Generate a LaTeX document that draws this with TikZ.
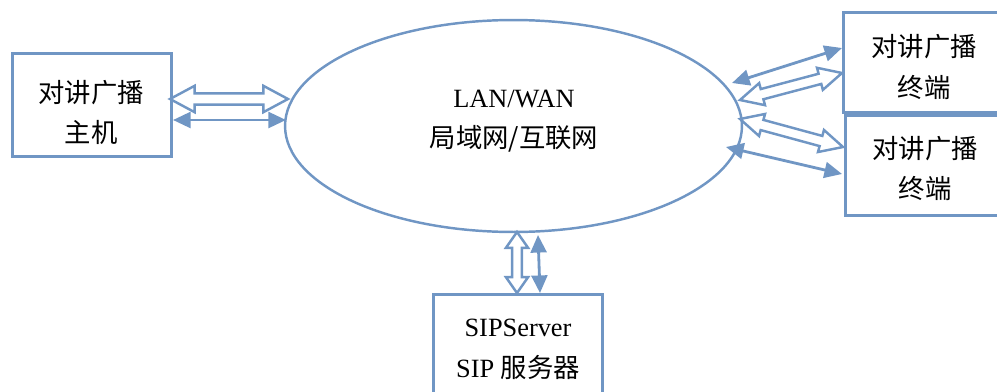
\documentclass[tikz,border=0pt]{standalone}
\usepackage{fontspec}
\setmainfont{Liberation Serif}
\newfontfamily\cjk{Noto Sans CJK SC}
\usetikzlibrary{shapes.geometric,arrows.meta,calc}

\definecolor{linkblue}{RGB}{112,150,196}

\begin{document}
\begin{tikzpicture}[x=0.02cm, y=-0.02cm,
    box/.style={draw=linkblue, line width=1.7pt, fill=white, inner sep=0pt},
    caption/.style={align=center, inner sep=0pt, font=\fontsize{15pt}{23pt}\selectfont},
    cjkcaption/.style={caption, font=\fontsize{15pt}{23pt}\selectfont\cjk},
    biarrow/.style={draw=linkblue, line width=1.6pt,
        {Triangle[length=10pt,width=9pt]}-{Triangle[length=10pt,width=9pt]}},
    hollowarrow/.style={draw=linkblue, fill=white, line width=1.4pt, line join=miter}]

    % from, to, head length, head half width, shaft half width
    \newcommand*{\hollowlink}[5]{
        \filldraw[hollowarrow] (#1)
            -- ($(#1)!#3!(#2)!#4!90:(#2)$) -- ($(#1)!#3!(#2)!#5!90:(#2)$)
            -- ($(#2)!#3!(#1)!#5!-90:(#1)$) -- ($(#2)!#3!(#1)!#4!-90:(#1)$)
            -- (#2)
            -- ($(#2)!#3!(#1)!#4!90:(#1)$) -- ($(#2)!#3!(#1)!#5!90:(#1)$)
            -- ($(#1)!#3!(#2)!#5!-90:(#2)$) -- ($(#1)!#3!(#2)!#4!-90:(#2)$)
            -- cycle;
    }

    \clip (0,0) rectangle (997,392);

    \node[draw=linkblue, line width=1.4pt, ellipse, inner sep=0pt,
        minimum width=9.14cm, minimum height=4.24cm] (lan) at (513.5,126) {};
    \node[caption] (lantext) at (514,121) {LAN/WAN\\{\cjk 局域网/互联网}};

    \node[box, minimum width=3.2cm, minimum height=2.06cm] (host) at (92,105) {};
    \node[box, minimum width=3.2cm, minimum height=2.02cm] (term1) at (923,62.5) {};
    \node[box, minimum width=3.2cm, minimum height=2.02cm] (term2) at (925,165.5) {};
    \node[box, minimum width=3.4cm, minimum height=2cm] (sip) at (518,344) {};

    \node[cjkcaption] (hosttext) at (91,112.5) {对讲广播\\主机};
    \node[cjkcaption] (term1text) at (924,67) {对讲广播\\终端};
    \node[cjkcaption] (term2text) at (925,168.5) {对讲广播\\终端};
    \node[caption] (siptext) at (518,349.5) {SIPServer\\SIP {\cjk 服务器}};

    % arrow ends
    \coordinate (hostA) at (170,99);   \coordinate (lanA) at (288,99);
    \coordinate (hostB) at (173,120);  \coordinate (lanB) at (286,120);
    \coordinate (lanC) at (732,83);    \coordinate (termC) at (842,48);
    \coordinate (lanD) at (740,100);   \coordinate (termD) at (842,73);
    \coordinate (lanE) at (740,119);   \coordinate (termE) at (843,147);
    \coordinate (lanF) at (726,147);   \coordinate (termF) at (842,174);
    \coordinate (lanG) at (517,232);   \coordinate (sipG) at (517,293);
    \coordinate (lanH) at (538,235);   \coordinate (sipH) at (540,293);

    \hollowlink{hostA}{lanA}{14pt}{7.5pt}{3.2pt}
    \draw[biarrow] (hostB) -- (lanB);

    \draw[biarrow] (lanC) -- (termC);
    \hollowlink{lanD}{termD}{13pt}{6.5pt}{3pt}
    \hollowlink{lanE}{termE}{13pt}{6.5pt}{3pt}
    \draw[biarrow] (lanF) -- (termF);

    \hollowlink{lanG}{sipG}{9pt}{6.3pt}{2.8pt}
    \draw[biarrow] (lanH) -- (sipH);

\end{tikzpicture}
\end{document}
